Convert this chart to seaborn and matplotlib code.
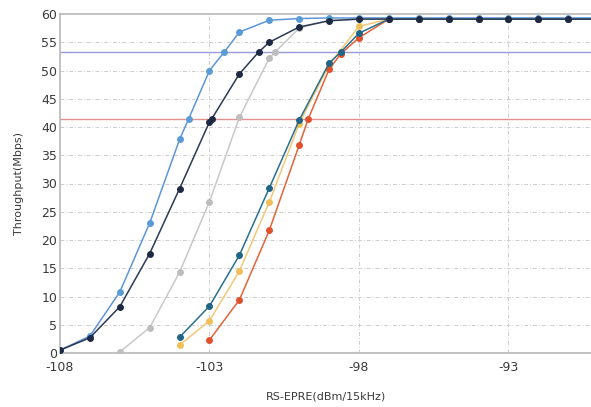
import numpy as np
import pandas as pd
import matplotlib
matplotlib.use("Agg")
import matplotlib.pyplot as plt
import seaborn as sns

flat_x = [-97, -96, -95, -94, -93, -92, -91, -90]

gray_x = [-106, -105, -104, -103, -102, -101, -100.8, -100, -99, -98] + flat_x
gray_y = [0.2, 4.5, 14.3, 26.8, 41.7, 52.2, 53.3, 57.5, 58.9, 59.1] + [59.1] * 8

yellow_x = [-104, -103, -102, -101, -100, -99, -98] + flat_x
yellow_y = [1.4, 5.7, 14.5, 26.7, 40.6, 51.0, 57.8] + [59.1] * 8

red_x = [-103, -102, -101, -100, -99.7, -99, -98.6, -98] + flat_x
red_y = [2.3, 9.4, 21.7, 36.8, 41.4, 50.2, 53.0, 55.8] + [59.1] * 8

teal_x = [-104, -103, -102, -101, -100, -99, -98.6, -98] + flat_x
teal_y = [2.8, 8.3, 17.3, 29.2, 41.2, 51.3, 53.3, 56.6] + [59.1] * 8

lblue_x = [-108, -107, -106, -105, -104, -103.7, -103, -102.5, -102, -101, -100, -99, -98] + flat_x
lblue_y = [0.5, 3.0, 10.8, 23.0, 37.8, 41.4, 50.0, 53.3, 56.8, 58.9, 59.2, 59.3, 59.3] + [59.3] * 8

navy_x = [-108, -107, -106, -105, -104, -103, -102.93, -102, -101.35, -101, -100, -99, -98] + flat_x
navy_y = [0.5, 2.7, 8.2, 17.6, 29.1, 40.9, 41.4, 49.4, 53.3, 55.0, 57.7, 58.8, 59.1] + [59.1] * 8

thresholds = [53.3, 41.4]
threshold_colors = ["#9a9ad8", "#e39090"]

x_ticks = [-108, -103, -98, -93]
y_ticks = list(range(0, 61, 5))

series = [
    ("gray", gray_x, gray_y, "#c8c8c8", "#bdbdbd"),
    ("yellow", yellow_x, yellow_y, "#f2c878", "#f0bf5a"),
    ("red", red_x, red_y, "#e5633a", "#e0502a"),
    ("teal", teal_x, teal_y, "#2a6f8e", "#1f6585"),
    ("lblue", lblue_x, lblue_y, "#5d95d8", "#5b9bd5"),
    ("navy", navy_x, navy_y, "#2a3a55", "#1e2a44"),
]

sns.set_theme(style="white")
plt.rcParams['font.family'] = ['DejaVu Sans']

fig = plt.figure(figsize=(5.91, 4.07), dpi=100)
ax = fig.add_axes([60 / 591, 54 / 407, 1.0 - 60 / 591 + 0.002, (353 - 14) / 407])

for yv in y_ticks[1:-1]:
    ax.axhline(yv, color="#cdcdcd", lw=0.7, ls=(0, (4, 2, 1, 2)), zorder=0)
for xv in x_ticks[1:]:
    ax.axvline(xv, color="#cdcdcd", lw=0.7, ls=(0, (4, 2, 1, 2)), zorder=0)

for t, c in zip(thresholds, threshold_colors):
    ax.axhline(t, color=c, lw=1.0, zorder=1)

for name, xs, ys, lc, mc in series:
    df = pd.DataFrame({"x": xs, "y": ys})
    sns.lineplot(data=df, x="x", y="y", ax=ax, sort=False, estimator=None,
                 color=lc, lw=1.1, marker="o", markersize=4.2,
                 markerfacecolor=mc, markeredgecolor=mc, zorder=3)

ax.set_xlim(-108, -90.2)
ax.set_ylim(0, 60)
ax.set_xticks(x_ticks)
ax.set_yticks(y_ticks)
ax.set_xticklabels([str(v) for v in x_ticks])
ax.tick_params(axis="both", length=0, labelsize=9, labelcolor="#3a3a3a")
ax.tick_params(axis="x", pad=6)
ax.tick_params(axis="y", pad=2)
ax.set_xlabel("RS-EPRE(dBm/15kHz)", fontsize=8, color="#3a3a3a", labelpad=10)
ax.set_ylabel("Throughput(Mbps)", fontsize=8, color="#3a3a3a", labelpad=10)
ax.xaxis.set_label_coords(0.5, -0.115)
ax.yaxis.set_label_coords(-0.068, 0.5)

for s in ["left", "bottom", "top"]:
    ax.spines[s].set_color("#b8b8b8")
    ax.spines[s].set_linewidth(1.2)
ax.spines["right"].set_visible(False)

fig.savefig("out.png", dpi=100)
